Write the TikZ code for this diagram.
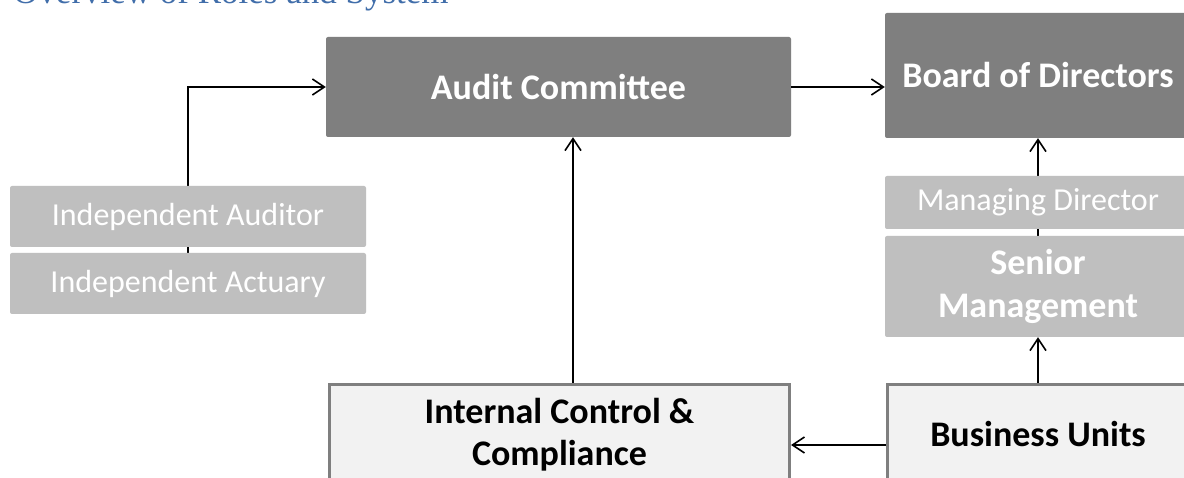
\documentclass[tikz,border=0pt]{standalone}
\usepackage{fontspec}
\setmainfont{Carlito}
\newfontfamily\headfont{Liberation Serif}
\usetikzlibrary{arrows.meta,backgrounds}
\definecolor{darkbox}{HTML}{7F7F7F}
\definecolor{lightbox}{HTML}{BFBFBF}
\definecolor{paperbox}{HTML}{F2F2F2}
\definecolor{headblue}{HTML}{416EAA}

\begin{document}
\begin{tikzpicture}[x=1pt,y=-1pt,
  box/.style={rounded corners=2pt,inner sep=0pt,align=center},
  dark/.style={box,fill=darkbox,text=white,font=\bfseries\fontsize{36}{43}\selectfont},
  light/.style={box,fill=lightbox,text=white,font=\fontsize{32}{38}\selectfont},
  outlined/.style={draw=darkbox,line width=3pt,fill=paperbox,inner sep=0pt,align=center,font=\bfseries\fontsize{36}{42}\selectfont},
  link/.style={line width=1.6pt,-{Straight Barb[length=12pt,width=16pt]}}]
\useasboundingbox (0,0) rectangle (1184,478);
\node[anchor=base west,text=headblue,font=\headfont\fontsize{35}{40}\selectfont,inner sep=0pt] (title) at (13,3.5) {Overview of Roles and System};
% top row
\node[dark,minimum width=465pt,minimum height=100pt] (audit) at (558.5,87) {Audit Committee};
\node[dark,minimum width=306pt,minimum height=125pt] (board) at (1038,75.5) {Board of Directors};
% left side
\node[light,minimum width=356pt,minimum height=61pt] (auditor) at (188,216.5) {Independent Auditor};
\node[light,minimum width=356pt,minimum height=61pt] (actuary) at (188,283.5) {Independent Actuary};
% right side
\node[light,minimum width=306pt,minimum height=53pt] (md) at (1038,202.5) {Managing Director};
\node[light,font=\bfseries\fontsize{36}{43}\selectfont,minimum width=306pt,minimum height=101pt] (senior) at (1038,286.5) {Senior\\Management};
% bottom row
\node[outlined,minimum width=460pt,minimum height=100pt] (icc) at (559.5,434.5) {Internal Control \&\\Compliance};
\node[outlined,minimum width=302pt,minimum height=100pt] (bu) at (1038,434.5) {Business Units};
% connectors
\begin{scope}[on background layer]
\fill[white] (0,0) rectangle (1184,478);
\draw[link] (actuary.north) |- (audit.west);
\draw[link] (senior.north) -- (board.south);
\end{scope}
\draw[link] (audit.east) -- (audit.east -| board.west);
\draw[link] ([xshift=13.5pt]icc.north) coordinate (iccup) -- (iccup |- audit.south);
\draw[link] (bu.north) -- (senior.south);
\draw[link] ([yshift=-10.5pt]bu.west) coordinate (buleft) -- (buleft -| icc.east);
\end{tikzpicture}
\end{document}
